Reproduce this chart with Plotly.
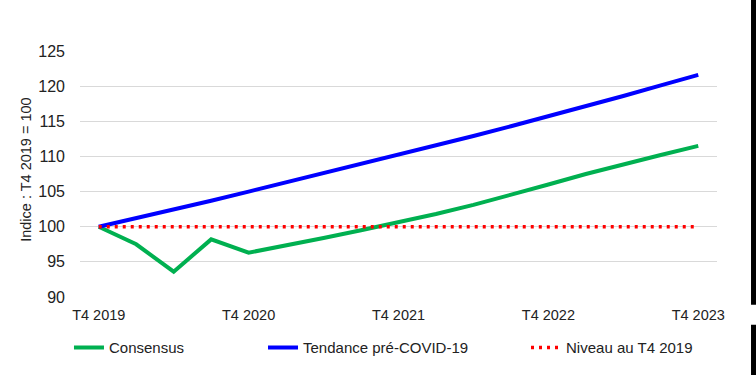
import plotly.graph_objects as go

quarters = ["T4 2019", "T1 2020", "T2 2020", "T3 2020", "T4 2020",
            "T1 2021", "T2 2021", "T3 2021", "T4 2021",
            "T1 2022", "T2 2022", "T3 2022", "T4 2022",
            "T1 2023", "T2 2023", "T3 2023", "T4 2023"]
consensus = [100.0, 97.5, 93.6, 98.2, 96.3, 97.3, 98.4, 99.5, 100.6,
             101.8, 103.1, 104.5, 106.0, 107.5, 108.9, 110.2, 111.5]
tendance = [100.0, 101.2, 102.5, 103.7, 105.0, 106.3, 107.6, 108.9, 110.2,
            111.6, 112.9, 114.3, 115.7, 117.2, 118.6, 120.1, 121.6]
niveau = [100, 100, 100, 100, 100, 100, 100, 100, 100,
          100, 100, 100, 100, 100, 100, 100, 100]
x_tick_labels = ["T4 2019", "T4 2020", "T4 2021", "T4 2022", "T4 2023"]
y_ticks = [90, 95, 100, 105, 110, 115, 120, 125]

FONT = "Arial, Liberation Sans, sans-serif"
TXT = "#222222"

fig = go.Figure()
fig.add_trace(go.Scatter(x=quarters, y=consensus, mode="lines", name="Consensus",
                         line=dict(color="#00B050", width=4), legend="legend"))
fig.add_trace(go.Scatter(x=quarters, y=tendance, mode="lines", name="Tendance pré-COVID-19",
                         line=dict(color="#0000FF", width=4), legend="legend2"))
fig.add_trace(go.Scatter(x=quarters, y=niveau, mode="lines", name="Niveau au T4 2019",
                         line=dict(color="#FF0000", width=3.5, dash="3px,5px"), legend="legend3"))

leg_common = dict(orientation="h", yanchor="middle", xanchor="left", y=-0.206,
                  font=dict(family=FONT, size=15, color=TXT), bgcolor="rgba(0,0,0,0)")

fig.update_layout(
    width=756, height=375,
    margin=dict(l=80, r=39, t=51, b=78, autoexpand=False),
    paper_bgcolor="white", plot_bgcolor="white",
    font=dict(family=FONT, color=TXT),
    showlegend=True,
    legend=dict(x=-0.0173, **leg_common),
    legend2=dict(x=0.2873, **leg_common),
    legend3=dict(x=0.7002, **leg_common),
    xaxis=dict(type="category", range=[-0.5, 16.5], tickmode="array",
               tickvals=x_tick_labels, ticktext=x_tick_labels,
               showgrid=False, showline=False, zeroline=False, ticks="",
               automargin=False, ticklabelstandoff=7,
               tickfont=dict(family=FONT, size=14.5, color=TXT)),
    yaxis=dict(range=[90, 125], tickmode="array", tickvals=y_ticks,
               showgrid=True, gridcolor="#D9D9D9", gridwidth=1.3,
               zeroline=False, showline=False, ticks="", automargin=False,
               ticklabelstandoff=14,
               tickfont=dict(family=FONT, size=16, color=TXT)),
    annotations=[dict(text="Indice : T4 2019 = 100", xref="paper", yref="paper",
                      x=-0.0848, y=0.517, xanchor="center", yanchor="middle",
                      textangle=-90, showarrow=False,
                      font=dict(family=FONT, size=14.5, color=TXT))],
    shapes=[
        dict(type="rect", xref="paper", yref="paper", x0=1.0534, x1=1.1,
             y0=-0.031, y1=1.3, fillcolor="black", line=dict(width=0), layer="above"),
        dict(type="rect", xref="paper", yref="paper", x0=1.0534, x1=1.1,
             y0=-0.4, y1=-0.1125, fillcolor="black", line=dict(width=0), layer="above"),
    ],
)

fig.write_html("out.html", config={"displayModeBar": False},
               post_script="document.body.style.margin='0';document.body.style.overflow='hidden';")
